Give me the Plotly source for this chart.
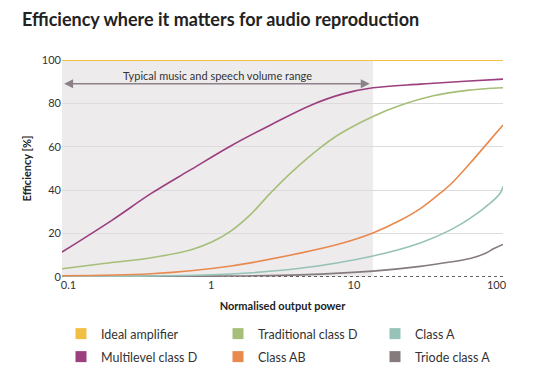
import numpy as np
import plotly.graph_objects as go

# ---- data ----
x_min, x_max = 0.09, 111
range_end = 13.6   # end of typical music/speech range

ideal_x = [0.09, 111]
ideal_y = [100, 100]

multi_x = [0.09, 0.2, 0.38, 0.7, 1.38, 2.63, 5, 8.5, 13.6, 29.2, 60, 111]
multi_y = [11.5, 26, 38.5, 49, 60.5, 70.2, 79.2, 84.5, 87.2, 88.9, 90.2, 91.2]

trad_x = [0.09, 0.166, 0.38, 0.725, 1.0, 1.38, 1.9, 2.63, 3.62, 5.8, 8, 13.6, 21, 36, 62, 111]
trad_y = [3.8, 6.0, 8.9, 12.6, 16, 21.3, 29, 39, 48, 59.5, 66, 74, 79, 83.5, 86, 87.2]

ab_x = [0.09, 0.38, 1.38, 4.2, 8, 13.6, 21, 29.2, 40, 47.3, 65.2, 90.3, 111]
ab_y = [0.6, 1.5, 5.1, 11, 15.3, 20.3, 26, 31.5, 38.5, 42.5, 52.4, 63.2, 70]

a_x = [0.09, 0.38, 1.38, 4.2, 13.6, 29.2, 47.3, 65.2, 90.3, 106, 111]
a_y = [0.2, 0.5, 1.4, 4, 9.7, 15.7, 21.6, 27, 34, 38.6, 41.7]

triode_x = [0.09, 1.0, 4.2, 13.6, 29.2, 47.3, 65.2, 83, 96, 111]
triode_y = [0.1, 0.4, 1.0, 2.7, 4.9, 6.9, 8.5, 10.8, 13.1, 15]

tick_vals = [0.1, 1, 10, 100]
tick_text = ["0.1", "1", "10", "100"]

# name, x, y, colour, legend row
series = [
    ("Ideal amplifier", ideal_x, ideal_y, "#f2bf44", "legend"),
    ("Traditional class D", trad_x, trad_y, "#a5bf78", "legend"),
    ("Class A", a_x, a_y, "#96c2b8", "legend"),
    ("Multilevel class D", multi_x, multi_y, "#9b3f7e", "legend2"),
    ("Class AB", ab_x, ab_y, "#e8894e", "legend2"),
    ("Triode class A", triode_x, triode_y, "#857a7c", "legend2"),
]

FONT = "Lato"
OFF = 8  # page body margin offset compensation
fig = go.Figure()

draw_order = ["Triode class A", "Class A", "Class AB", "Traditional class D", "Multilevel class D", "Ideal amplifier"]
lookup = {s[0]: s for s in series}
for name in draw_order:
    n, xs, ys, c, lg = lookup[name]
    fig.add_trace(go.Scatter(x=xs, y=ys, mode="lines",
                             line=dict(color=c, width=2 if n == "Ideal amplifier" else 1.6,
                                       shape="spline", smoothing=1.0),
                             showlegend=False, hoverinfo="skip", cliponaxis=False))

for n, xs, ys, c, lg in series:
    fig.add_trace(go.Scatter(x=[None], y=[None], mode="markers", name=n, legend=lg,
                             marker=dict(symbol="square", size=11, color=c)))

# shaded range
fig.add_shape(type="rect", xref="x", yref="y", x0=x_min, x1=range_end, y0=0, y1=100,
              fillcolor="#eeebed", line=dict(width=0), layer="below")
# dotted zero line
fig.add_shape(type="line", xref="x", yref="y", x0=x_min, x1=x_max, y0=0, y1=0,
              line=dict(color="#333333", width=1.5, dash="dot"), layer="below")

# double arrow
fig.add_annotation(x=np.log10(range_end * 0.95), y=89, ax=np.log10(x_min * 1.01), ay=89,
                   xref="x", yref="y", axref="x", ayref="y", showarrow=True,
                   arrowhead=2, arrowsize=1.2, arrowwidth=1.5, arrowcolor="#8a8288",
                   arrowside="end+start", text="")
fig.add_annotation(x=np.log10(np.sqrt(x_min * range_end)), y=89, xref="x", yref="y",
                   text="Typical music and speech volume range", showarrow=False,
                   yanchor="bottom", yshift=0, font=dict(size=11, color="#333333", family=FONT))

W, H = 544, 392
L, R, T, B = 62 - OFF, 41 + OFF, 60 - OFF, 115 + OFF
plot_w, plot_h = W - L - R, H - T - B
plot_bottom = H - B

legend_common = dict(orientation="h", xanchor="left", xref="paper", yanchor="middle", yref="paper",
                     entrywidth=112, entrywidthmode="pixels", itemclick=False,
                     font=dict(size=12.5, color="#333333", family=FONT))

fig.update_layout(
    width=W, height=H,
    margin=dict(l=L, r=R, t=T, b=B, autoexpand=False),
    paper_bgcolor="white", plot_bgcolor="white",
    font=dict(family=FONT, size=11, color="#333333"),
    title=dict(text="<b>Efficiency where it matters for audio reproduction</b>",
               x=(22 - OFF) / W, xanchor="left", xref="container",
               y=1 - (20 - OFF) / H, yanchor="middle", yref="container", pad=dict(l=0, r=0, t=0, b=0),
               font=dict(size=18, color="#222222", family=FONT)),
    showlegend=True,
    legend=dict(x=(61 - OFF - L) / plot_w, y=-((334 - OFF) - plot_bottom) / plot_h, **legend_common),
    legend2=dict(x=(61 - OFF - L) / plot_w, y=-((357 - OFF) - plot_bottom) / plot_h, **legend_common),
)
fig.update_xaxes(type="log", range=[np.log10(x_min), np.log10(x_max)],
                 tickvals=tick_vals, ticktext=tick_text, showgrid=False, zeroline=False,
                 showline=False, ticks="", tickfont=dict(size=11, color="#333333"),
                 title=dict(text="<b>Normalised output power</b>", font=dict(size=11, color="#222222"), standoff=12))
fig.update_yaxes(range=[0, 100], tickvals=[0, 20, 40, 60, 80, 100], showgrid=True,
                 gridcolor="#dedbdd", gridwidth=1, zeroline=False, showline=False, ticks="",
                 tickfont=dict(size=11, color="#333333"),
                 title=dict(text="<b>Efficiency [%]</b>", font=dict(size=11, color="#222222"), standoff=8))

fig.write_html("out.html")
